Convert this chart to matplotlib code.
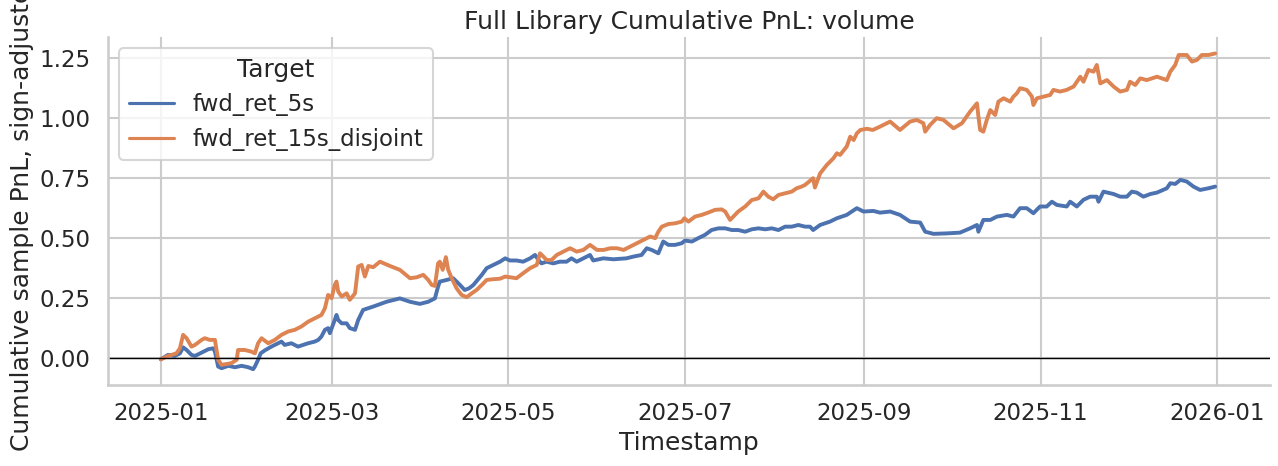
import numpy as np
import pandas as pd
import matplotlib
matplotlib.use("Agg")
import matplotlib.pyplot as plt
import seaborn as sns

sns.set_theme(style="whitegrid", context="talk")

start = pd.Timestamp("2025-01-01")

# fwd_ret_5s : day offsets from 2025-01-01 and cumulative PnL
days_5s = [0, 2.5, 4.8, 6.6, 7.7, 8.9, 10.6, 11.8, 14.1, 16.4, 18.1, 18.7, 19.8, 21, 23.3, 25.6,
           27.9, 30.2, 31.9, 32.5, 33.6, 34.5, 35.9, 38.2, 40.5, 41.7, 42.8, 45.1, 47.4, 49.2,
           50.9, 53.2, 54.4, 55.5, 56.7, 57.8, 58.4, 60.1, 60.7, 61.3, 62.5, 64.2, 65.3, 67.1,
           68.2, 69.9, 71.7, 73.4, 78, 82.6, 86.1, 89.5, 92.4, 94.7, 95.8, 96.4, 98.8, 101,
           102.8, 105, 106.5, 108, 110.9, 112.6, 114.9, 117.2, 119, 120.6, 122.9, 125.2, 127.6,
           129.3, 130.5, 131.5, 133.3, 135.6, 137.9, 140.2, 141.9, 143.7, 146, 148.3, 149.4,
           152.9, 156.4, 160.9, 163.2, 166.1, 167.9, 169.6, 171.9, 173.6, 175.4, 177.7, 180,
           181.1, 183.5, 185.7, 188, 190.3, 192.7, 195, 197.3, 199.5, 201.9, 204.2, 206.5,
           208.8, 211.1, 213.4, 215.7, 218, 220.3, 222.6, 224.3, 225.4, 227.8, 231.2, 233.6,
           237, 240.5, 242.8, 246.2, 248.5, 252, 255.4, 258.9, 262.4, 264.1, 267, 271.6, 276.1,
           279.6, 282, 282.5, 284.2, 286.6, 288.9, 292.3, 294.6, 296.9, 299.2, 301.5, 303.8,
           306.1, 307.9, 309.6, 313, 314.2, 316.5, 318.8, 321.1, 323.4, 324, 325.7, 329.2,
           331.5, 333.8, 335.5, 337.2, 339.5, 341.9, 344.2, 347.6, 348.8, 350.5, 352.3, 354.5,
           356.8, 359.1, 362, 364.3]
pnl_5s = [-0.006, 0.0125, 0.008, 0.019, 0.044, 0.033, 0.0125, 0.008, 0.022, 0.036, 0.040, 0.026,
          -0.036, -0.043, -0.033, -0.039, -0.033, -0.039, -0.047, -0.036, -0.008, 0.019, 0.031,
          0.047, 0.061, 0.068, 0.054, 0.061, 0.047, 0.054, 0.061, 0.068, 0.075, 0.089, 0.117,
          0.124, 0.103, 0.158, 0.179, 0.158, 0.144, 0.144, 0.124, 0.117, 0.158, 0.200, 0.207,
          0.214, 0.234, 0.248, 0.234, 0.225, 0.234, 0.248, 0.297, 0.318, 0.325, 0.332, 0.311,
          0.283, 0.290, 0.304, 0.346, 0.374, 0.3875, 0.401, 0.415, 0.406, 0.406, 0.401, 0.415,
          0.429, 0.408, 0.394, 0.401, 0.394, 0.401, 0.401, 0.415, 0.401, 0.415, 0.429, 0.406,
          0.415, 0.411, 0.415, 0.422, 0.429, 0.457, 0.450, 0.436, 0.485, 0.471, 0.471, 0.478,
          0.489, 0.485, 0.499, 0.5125, 0.533, 0.540, 0.540, 0.533, 0.533, 0.526, 0.536, 0.540,
          0.536, 0.540, 0.533, 0.547, 0.547, 0.554, 0.547, 0.547, 0.533, 0.554, 0.568, 0.582,
          0.596, 0.624, 0.610, 0.6125, 0.6055, 0.610, 0.596, 0.568, 0.564, 0.526, 0.517, 0.519,
          0.522, 0.540, 0.554, 0.526, 0.575, 0.575, 0.589, 0.596, 0.589, 0.624, 0.624, 0.603,
          0.631, 0.631, 0.651, 0.6375, 0.631, 0.651, 0.631, 0.659, 0.672, 0.672, 0.651, 0.693,
          0.683, 0.672, 0.672, 0.693, 0.689, 0.672, 0.683, 0.689, 0.707, 0.728, 0.725, 0.742,
          0.735, 0.714, 0.700, 0.707, 0.714]

# fwd_ret_15s_disjoint
days_15s = [0, 2.5, 5.4, 6.6, 7.7, 8.9, 10.6, 11.8, 14.1, 15.2, 16.9, 18.7, 19.8, 21, 24.4, 26.2,
            26.7, 29, 31.3, 32.5, 33.6, 34.8, 37.1, 39.4, 41.7, 44, 46.3, 48.6, 50.9, 53.2, 55.5,
            56.7, 57.8, 59, 60.1, 60.7, 61.3, 62.5, 64.2, 65.3, 67.1, 68.2, 69.4, 70.5, 71.7,
            73.4, 75.7, 79.2, 82.6, 86.1, 88.4, 90.7, 92.4, 93.6, 94.7, 95.8, 96.4, 97.4, 98.5,
            99.3, 100.5, 102.2, 103.9, 105.7, 107.4, 109.1, 110.9, 112.6, 114.9, 117.2, 119,
            120.6, 122.9, 125.2, 127.6, 129.9, 131, 132.2, 133.3, 135, 136.8, 139.1, 141.4,
            143.7, 146, 148.3, 150.7, 153, 155.3, 157.6, 159.9, 162.2, 164.5, 166.8, 169.1,
            170.8, 171.9, 173.1, 175.4, 177.7, 180, 180.9, 182.3, 184.6, 186.9, 189.2, 191.5,
            193.8, 195, 196.7, 197.8, 199.5, 201.9, 204.2, 206.5, 208.2, 209.9, 211.6, 213.4,
            215.7, 218, 219.7, 221.4, 222.6, 225.4, 226, 227.8, 230.1, 232.4, 233.6, 234.7, 237,
            238.2, 239.4, 240.5, 241.7, 244, 246, 248.5, 252, 255.4, 258.9, 261.2, 263.5, 264.1,
            265.8, 268.1, 270.4, 273.9, 276.8, 279.6, 282, 282.5, 283.1, 284.2, 285.4, 286.6,
            288.3, 289.4, 291.2, 293.5, 294.6, 295.8, 296.9, 299.2, 301, 301.5, 302.7, 305,
            307.3, 308.4, 310.7, 313, 315.4, 317.7, 318.8, 320.5, 322.3, 323.4, 324.6, 326.9,
            329.2, 331.5, 333.8, 334.9, 336.7, 338.4, 340.7, 344.2, 347.6, 348.8, 350.5, 351.7,
            354.5, 356.3, 358, 359.7, 362, 364.3]
pnl_15s = [-0.006, 0.008, 0.019, 0.040, 0.096, 0.082, 0.047, 0.054, 0.075, 0.082, 0.075, 0.075,
           -0.008, -0.029, -0.022, -0.008, 0.033, 0.033, 0.026, 0.019, 0.061, 0.082, 0.061,
           0.075, 0.096, 0.110, 0.117, 0.131, 0.151, 0.165, 0.179, 0.207, 0.2625, 0.249, 0.304,
           0.318, 0.276, 0.256, 0.269, 0.242, 0.269, 0.381, 0.3875, 0.339, 0.383, 0.378, 0.401,
           0.383, 0.367, 0.332, 0.336, 0.346, 0.325, 0.304, 0.300, 0.394, 0.401, 0.367, 0.420,
           0.367, 0.332, 0.290, 0.2625, 0.253, 0.269, 0.283, 0.304, 0.325, 0.328, 0.330, 0.339,
           0.336, 0.332, 0.353, 0.374, 0.3875, 0.436, 0.422, 0.408, 0.408, 0.429, 0.443, 0.457,
           0.443, 0.450, 0.471, 0.450, 0.450, 0.457, 0.457, 0.450, 0.464, 0.478, 0.492, 0.506,
           0.499, 0.526, 0.547, 0.558, 0.561, 0.568, 0.582, 0.568, 0.589, 0.596, 0.606, 0.617,
           0.619, 0.610, 0.575, 0.589, 0.610, 0.631, 0.658, 0.665, 0.693, 0.672, 0.661, 0.679,
           0.686, 0.693, 0.707, 0.714, 0.721, 0.749, 0.710, 0.769, 0.804, 0.832, 0.853, 0.846,
           0.881, 0.922, 0.908, 0.936, 0.950, 0.955, 0.950, 0.964, 0.985, 0.950, 0.985, 0.992,
           0.978, 0.943, 0.971, 0.999, 0.992, 0.957, 0.978, 1.026, 1.061, 1.006, 0.950, 0.943,
           0.992, 1.033, 1.0125, 1.068, 1.082, 1.068, 1.089, 1.103, 1.124, 1.117, 1.089, 1.054,
           1.082, 1.089, 1.096, 1.117, 1.110, 1.117, 1.131, 1.172, 1.151, 1.200, 1.193, 1.221,
           1.144, 1.158, 1.131, 1.110, 1.117, 1.151, 1.1375, 1.165, 1.158, 1.172, 1.158, 1.193,
           1.221, 1.2625, 1.2625, 1.235, 1.242, 1.2625, 1.2625, 1.269]

series_names = ["fwd_ret_5s", "fwd_ret_15s_disjoint"]
colors = ["#4C72B0", "#DD8452"]

fig = plt.figure(figsize=(12.78, 4.66), dpi=100)
ax = fig.add_axes([108 / 1278, 1 - 385 / 466, 1162 / 1278, 348 / 466])

for name, d, v, c in [(series_names[0], days_5s, pnl_5s, colors[0]),
                      (series_names[1], days_15s, pnl_15s, colors[1])]:
    t = start + pd.to_timedelta(np.asarray(d, dtype=float), unit="D")
    ax.plot(t, v, color=c, lw=2.8, label=name)

ax.axhline(0, color="black", lw=1)
ax.set_xlim(start - pd.Timedelta(days=18.25), start + pd.Timedelta(days=365 + 18.25))
ax.set_ylim(-0.113, 1.3375)
ax.set_yticks([0.0, 0.25, 0.5, 0.75, 1.0, 1.25])
ax.set_yticklabels(["0.00", "0.25", "0.50", "0.75", "1.00", "1.25"])
xt = pd.to_datetime(["2025-01-01", "2025-03-01", "2025-05-01", "2025-07-01",
                     "2025-09-01", "2025-11-01", "2026-01-01"])
ax.set_xticks(xt)
ax.set_xticklabels([d.strftime("%Y-%m") for d in xt])
ax.set_title("Full Library Cumulative PnL: volume")
ax.set_xlabel("Timestamp")
ax.set_ylabel("Cumulative sample PnL, sign-adjusted")
leg = ax.legend(title="Target", loc="upper left")
for line in leg.get_lines():
    line.set_linewidth(2.25)
sns.despine(ax=ax)

fig.savefig("out.png", dpi=100)
